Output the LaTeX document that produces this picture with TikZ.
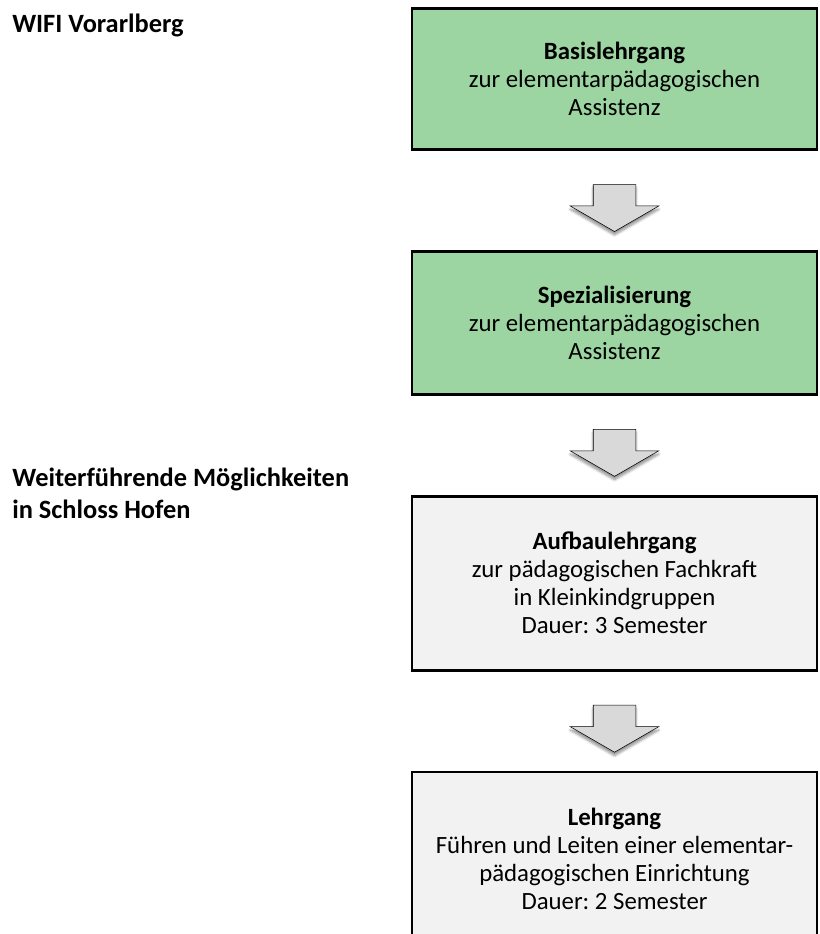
\documentclass[tikz,border=0pt]{standalone}
\usepackage{fontspec}
\setmainfont{Carlito}
\usetikzlibrary{positioning,shapes.arrows,shadows.blur}
\definecolor{boxgreen}{RGB}{156,213,161}
\definecolor{boxgray}{RGB}{242,242,242}
\definecolor{arrowgray}{RGB}{217,217,217}
\frenchspacing

\begin{document}
\begin{tikzpicture}[x=0.75pt, y=-0.75pt,
    course/.style={draw, line width=2.2pt, minimum width=303.75pt, inner sep=0pt,
      align=center, font=\fontsize{18.6}{21}\selectfont},
    stepdown/.style={single arrow, shape border rotate=270, draw, thin, fill=arrowgray,
      minimum height=35.25pt, minimum width=66pt, inner xsep=15.75pt, inner ysep=0pt,
      single arrow head extend=17.25pt, single arrow tip angle=120,
      blur shadow={shadow xshift=0pt, shadow yshift=-2.5pt, shadow blur steps=6, shadow opacity=45}},
    side/.style={font=\bfseries\fontsize{19.8}{24}\selectfont, align=left, inner sep=0pt}
  ]
    \useasboundingbox (0,0) rectangle (819,934);

    % left captions
    \node[side, anchor=base west] (wifi) at (12,33) {WIFI Vorarlberg};
    \node[side, anchor=base west] (hofen) at (12,518) {Weiterführende Möglichkeiten\\in Schloss Hofen};

    % courses
    \node[course, fill=boxgreen, minimum height=105.75pt, anchor=north] (basis) at (614.5,7)
        {\textbf{Basislehrgang}\\zur elementarpädagogischen\\Assistenz};
    \node[stepdown, anchor=tail] (a1) at ([yshift=-25pt]basis.south) {};
    \node[course, fill=boxgreen, minimum height=107.25pt, below=13.5pt of a1.tip] (spez)
        {\textbf{Spezialisierung}\\zur elementarpädagogischen\\Assistenz};
    \node[stepdown, anchor=tail] (a2) at ([yshift=-25pt]spez.south) {};
    \node[course, fill=boxgray, minimum height=130.5pt, below=13.5pt of a2.tip] (aufbau)
        {\textbf{Aufbaulehrgang}\\zur pädagogischen Fachkraft\\in Kleinkindgruppen\\Dauer: 3 Semester};
    \node[stepdown, anchor=tail] (a3) at ([yshift=-25pt]aufbau.south) {};
    \node[course, fill=boxgray, minimum height=130.5pt, below=13.5pt of a3.tip] (leiten)
        {\textbf{Lehrgang}\\Führen und Leiten einer elementar-\\pädagogischen Einrichtung\\Dauer: 2 Semester};
\end{tikzpicture}
\end{document}
